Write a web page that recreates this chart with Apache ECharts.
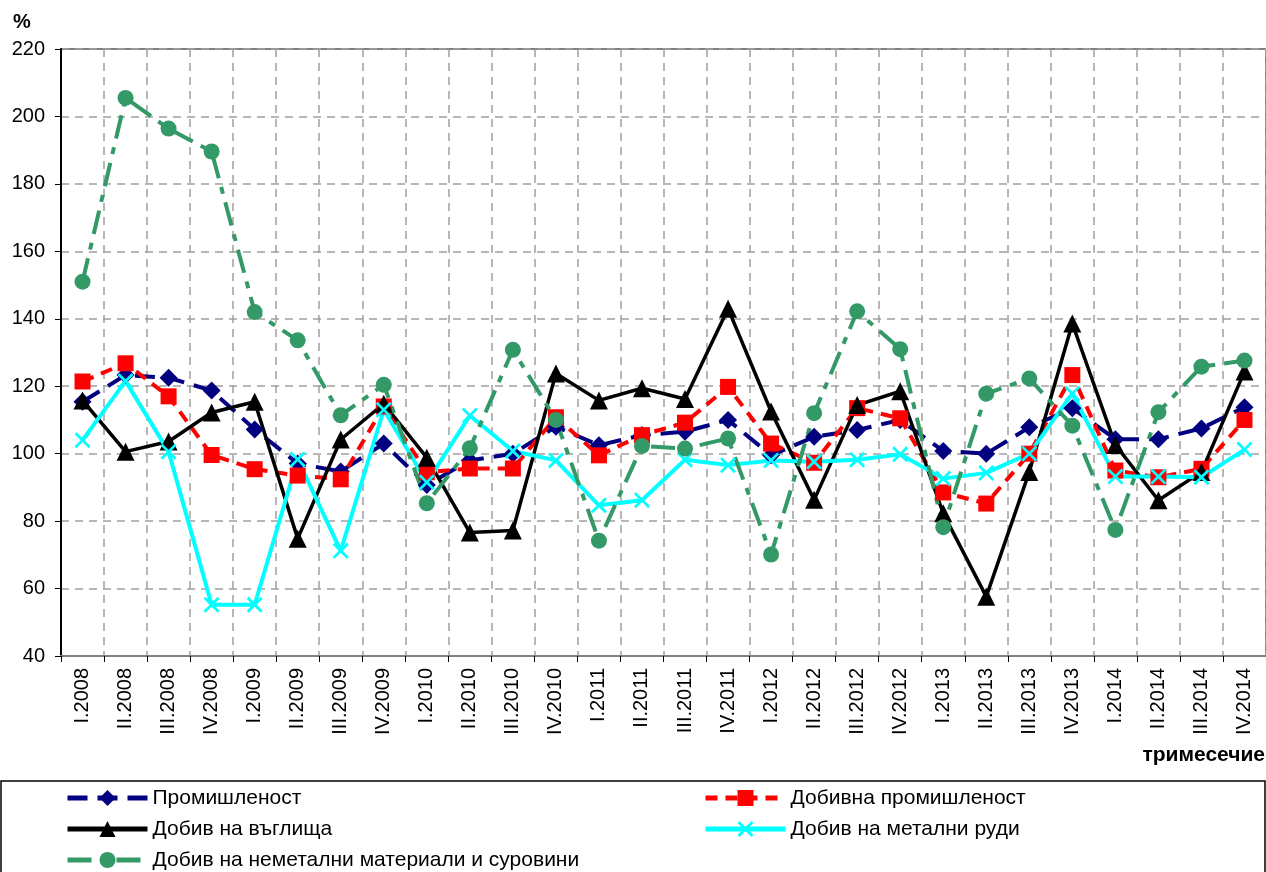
<!DOCTYPE html>
<html>
<head>
<meta charset="utf-8">
<title>Индекси на промишленото производство</title>
<script src="https://cdn.jsdelivr.net/npm/echarts@6/dist/echarts.min.js"></script>
<style>
  html, body { margin: 0; padding: 0; background: #fff; }
  #chart { width: 1266px; height: 872px; }
</style>
</head>
<body>
<div id="chart"></div>
<script>
// тримесечия
const quarters = [
  'I.2008', 'II.2008', 'III.2008', 'IV.2008',
  'I.2009', 'II.2009', 'III.2009', 'IV.2009',
  'I.2010', 'II.2010', 'III.2010', 'IV.2010',
  'I.2011', 'II.2011', 'III.2011', 'IV.2011',
  'I.2012', 'II.2012', 'III.2012', 'IV.2012',
  'I.2013', 'II.2013', 'III.2013', 'IV.2013',
  'I.2014', 'II.2014', 'III.2014', 'IV.2014'
]

const industry = [115.4, 123.3, 122.5, 118.7, 107.2, 97.1, 94.7, 103, 90.7, 98, 100, 108, 102.5, 105.5, 106.5, 110, 99.5, 105, 107, 110, 100.8, 100, 107.8, 113.5, 104.3, 104.3, 107.5, 113.8]
const mining = [121.4, 126.8, 117, 99.6, 95.4, 93.5, 92.4, 114, 94.5, 95.6, 95.6, 110.8, 99.5, 105.5, 109.2, 119.8, 103, 97.3, 113.5, 110.5, 88.5, 85.2, 100, 123.3, 95, 93, 95.5, 110]
const coal = [115.8, 100.6, 103.6, 112.2, 115.4, 74.8, 104.2, 114.8, 98.8, 76.6, 77.2, 123.8, 115.8, 119.4, 116.2, 143, 112.5, 86.3, 114.4, 118.5, 82.3, 57.6, 94.6, 138.6, 102.6, 86.2, 94.6, 124.4]
const metalOres = [104, 121.5, 100.6, 55.2, 55.2, 98.3, 71.2, 113, 91.5, 111.3, 100.8, 98, 84.7, 86.2, 98.2, 96.6, 98, 97.6, 98.2, 99.8, 92.6, 94.3, 100, 117.8, 93.2, 93.2, 93, 101.2]
const nonMetal = [151, 205.5, 196.4, 189.6, 142, 133.6, 111.4, 120.4, 85.3, 101.6, 130.8, 110, 74.2, 102.3, 101.5, 104.5, 70.1, 112, 142.2, 131, 78.2, 117.8, 122.3, 108.3, 77.4, 112.3, 125.8, 127.6]

const names = [
  'Промишленост',
  'Добивна промишленост',
  'Добив на въглища',
  'Добив на метални руди',
  'Добив на неметални материали и суровини'
]

const FONT = '"Liberation Sans", Arial, sans-serif'
// кръстче за металните руди
const crossPath = 'path://M0,1.2 L1.2,0 L5,3.8 L8.8,0 L10,1.2 L6.2,5 L10,8.8 L8.8,10 L5,6.2 L1.2,10 L0,8.8 L3.8,5 Z'

const mkSeries = (name, data, color, lineType, width, symbol, size) => ({
  name: name,
  type: 'line',
  data: data,
  symbol: symbol,
  symbolSize: size,
  showSymbol: true,
  color: color,
  itemStyle: { color: color },
  lineStyle: { color: color, width: width, type: lineType },
  emphasis: { disabled: true }
})

const legendBase = {
  orient: 'vertical',
  top: 786,
  padding: 0,
  height: 120,
  itemWidth: 80,
  itemHeight: 20,
  itemGap: 7,
  lineStyle: { width: 5 },
  textStyle: { fontFamily: FONT, fontSize: 21, color: '#000', lineHeight: 24 }
}

const chart = echarts.init(document.getElementById('chart'))

const option = {
  animation: false,
  backgroundColor: '#fff',
  textStyle: { fontFamily: FONT },
  grid: {
    left: 61,
    top: 49,
    right: -6,
    bottom: 216,
    show: true,
    borderColor: '#808080',
    borderWidth: 2
  },
  legend: [
    Object.assign({}, legendBase, { data: [names[0], names[2], names[4]], left: 65 }),
    Object.assign({}, legendBase, { data: [names[1], names[3]], left: 703 })
  ],
  xAxis: {
    type: 'category',
    data: quarters,
    boundaryGap: true,
    axisLine: { lineStyle: { color: '#808080', width: 2 } },
    axisTick: { show: true, interval: 0, length: 6, lineStyle: { color: '#000' } },
    axisLabel: {
      interval: 0,
      rotate: 90,
      margin: 12,
      fontSize: 20,
      color: '#000',
      fontFamily: FONT
    },
    splitLine: {
      show: true,
      interval: 0,
      lineStyle: { color: '#a0a0a0', width: 1.5, type: [8, 6] }
    }
  },
  yAxis: {
    type: 'value',
    min: 40,
    max: 220,
    interval: 20,
    axisLine: { show: true, lineStyle: { color: '#000', width: 2 } },
    axisTick: { show: true, length: 6, lineStyle: { color: '#000' } },
    axisLabel: { fontSize: 20, color: '#000', margin: 16, fontFamily: FONT },
    splitLine: {
      show: true,
      lineStyle: { color: '#a0a0a0', width: 1.5, type: [8, 6] }
    }
  },
  series: [
    mkSeries(names[0], industry, '#000080', [20, 10], 4, 'diamond', 18),
    mkSeries(names[1], mining, '#ff0000', [12, 8], 4, 'rect', 16),
    mkSeries(names[2], coal, '#000000', 'solid', 3.5, 'triangle', 18),
    mkSeries(names[3], metalOres, '#00ffff', 'solid', 4, crossPath, 16),
    mkSeries(names[4], nonMetal, '#339966', [24, 9, 7, 9], 4, 'circle', 16)
  ],
  graphic: [
    {
      type: 'text',
      left: 13,
      top: 12,
      style: { text: '%', font: 'bold 20px ' + FONT, fill: '#000' }
    },
    {
      type: 'text',
      right: 1,
      top: 745,
      style: { text: 'тримесечие', font: 'bold 21px ' + FONT, fill: '#000' }
    },
    {
      type: 'rect',
      shape: { x: 1, y: 781, width: 1264, height: 100 },
      style: { fill: 'none', stroke: '#000', lineWidth: 1.5 },
      z: -1
    }
  ]
}

chart.setOption(option)
</script>
</body>
</html>
